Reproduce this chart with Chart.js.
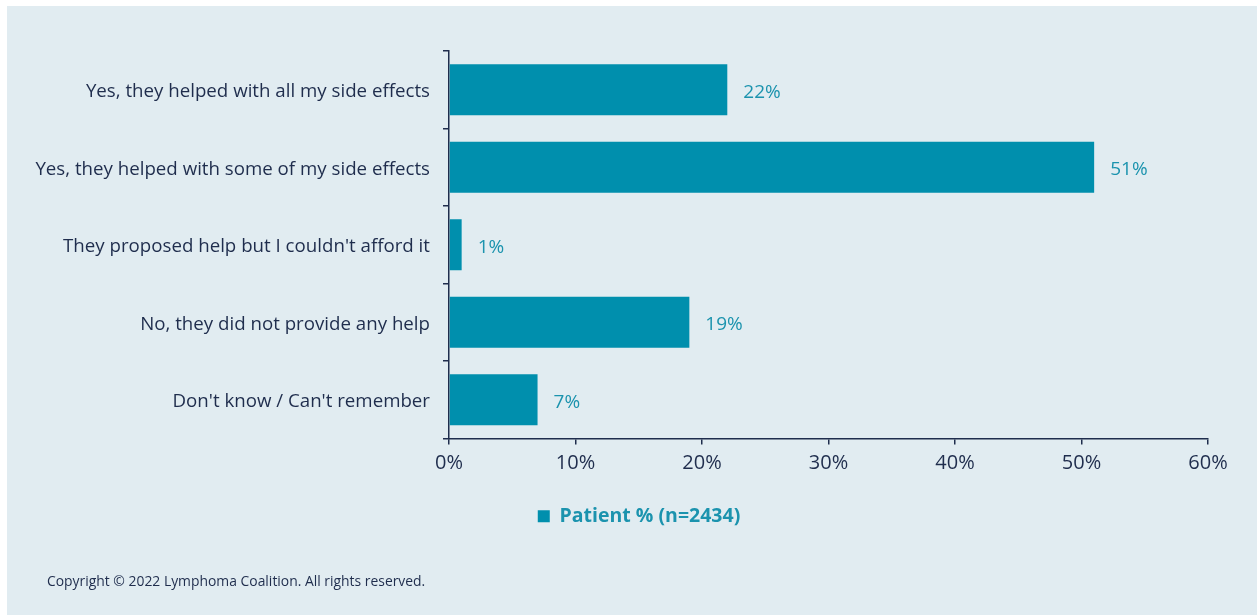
<!DOCTYPE html>
<html>
<head>
<meta charset="utf-8">
<script src="https://cdn.jsdelivr.net/npm/chart.js@4/dist/chart.umd.min.js"></script>
<style>
  html, body { margin: 0; padding: 0; background: #ffffff; }
  #wrap { position: relative; width: 1257px; height: 615px; }
</style>
</head>
<body>
<div id="wrap"><canvas id="chart" width="1257" height="615"></canvas></div>
<script>
// Survey responses and share of patients
const categories = [
  "Yes, they helped with all my side effects",
  "Yes, they helped with some of my side effects",
  "They proposed help but I couldn't afford it",
  "No, they did not provide any help",
  "Don't know / Can't remember"
];
const patientPct = [22, 51, 1, 19, 7];
const seriesLabel = "Patient % (n=2434)";
const xTicks = [0, 10, 20, 30, 40, 50, 60];
const footnote = "Copyright \u00A9 2022 Lymphoma Coalition. All rights reserved.";

const TEAL = "#008fad";
const LABEL_TEAL = "#1b93ae";
const NAVY = "#1f2d4d";
const PANEL = "#e1ecf1";
const FONT = "'Open Sans', 'Noto Sans', sans-serif";
const LEGEND_SHIFT = 35;

// Light panel behind the chart plus the footnote line
const panelPlugin = {
  id: "panel",
  afterLayout(chart) {
    // nudge the legend row to the right of the canvas centre
    if (chart.legend) {
      chart.legend.left += LEGEND_SHIFT;
      chart.legend.right += LEGEND_SHIFT;
    }
  },
  beforeDraw(chart) {
    const ctx = chart.ctx;
    ctx.save();
    ctx.fillStyle = "#ffffff";
    ctx.fillRect(0, 0, chart.width, chart.height);
    ctx.fillStyle = PANEL;
    ctx.fillRect(7, 6, chart.width - 7, chart.height - 6);
    ctx.restore();
  },
  afterDraw(chart) {
    const ctx = chart.ctx;
    ctx.save();
    ctx.fillStyle = NAVY;
    ctx.font = "13.9px " + FONT;
    ctx.textAlign = "left";
    ctx.textBaseline = "middle";
    ctx.fillText(footnote, 47, 582);
    ctx.restore();
  }
};

// Percentage text at the end of each bar
const valueLabels = {
  id: "valueLabels",
  afterDatasetsDraw(chart) {
    const ctx = chart.ctx;
    const meta = chart.getDatasetMeta(0);
    const data = chart.data.datasets[0].data;
    ctx.save();
    ctx.fillStyle = LABEL_TEAL;
    ctx.font = "19px " + FONT;
    ctx.textAlign = "left";
    ctx.textBaseline = "middle";
    meta.data.forEach((bar, i) => {
      ctx.fillText(data[i] + "%", bar.x + 16, bar.y + 2.5);
    });
    ctx.restore();
  }
};

new Chart(document.getElementById("chart"), {
  type: "bar",
  data: {
    labels: categories,
    datasets: [{
      label: seriesLabel,
      data: patientPct,
      backgroundColor: TEAL,
      borderWidth: 0,
      barPercentage: 0.66,
      categoryPercentage: 1.0
    }]
  },
  options: {
    indexAxis: "y",
    responsive: false,
    animation: false,
    layout: { padding: { left: 0, top: 51, right: 49, bottom: 79 } },
    plugins: {
      legend: {
        position: "bottom",
        labels: {
          color: LABEL_TEAL,
          font: { family: FONT, size: 19.5, weight: "bold" },
          boxWidth: 12,
          boxHeight: 12,
          padding: 10
        }
      },
      tooltip: { enabled: false }
    },
    scales: {
      x: {
        min: 0,
        max: 60,
        afterBuildTicks(scale) {
          scale.ticks = xTicks.map(v => ({ value: v }));
        },
        afterFit(scale) { scale.height = 58; },
        border: { display: true, color: NAVY, width: 1.5 },
        grid: {
          drawOnChartArea: false,
          drawTicks: true,
          tickLength: 6,
          color: NAVY,
          lineWidth: 1.5
        },
        ticks: {
          color: NAVY,
          font: { family: FONT, size: 20 },
          padding: 7,
          callback: v => v + "%"
        }
      },
      y: {
        afterFit(scale) { scale.width = 449; },
        border: { display: true, color: NAVY, width: 1.5 },
        grid: {
          offset: true,
          drawOnChartArea: false,
          drawTicks: true,
          tickLength: 6,
          color: NAVY,
          lineWidth: 1.5
        },
        ticks: {
          color: NAVY,
          font: { family: FONT, size: 18.7 },
          padding: 13,
          labelOffset: 2
        }
      }
    }
  },
  plugins: [panelPlugin, valueLabels]
});
</script>
</body>
</html>
